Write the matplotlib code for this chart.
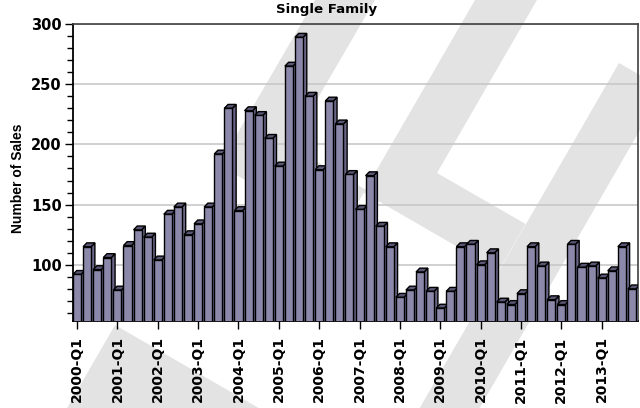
import matplotlib.pyplot as plt
from matplotlib.patches import Polygon
from matplotlib.ticker import MultipleLocator

# quarterly single family sales, 2000-Q1 .. 2013-Q4
quarters = [f"{y}-Q{q}" for y in range(2000, 2014) for q in range(1, 5)]
sales = [92, 115, 96, 106, 79, 116, 129, 123, 104, 142,
         148, 125, 134, 148, 192, 230, 145, 228, 224, 205,
         182, 265, 289, 240, 179, 236, 217, 175, 146, 174,
         132, 115, 73, 79, 94, 78, 64, 78, 115, 117,
         100, 110, 69, 67, 76, 115, 99, 71, 67, 117,
         98, 99, 89, 95, 115, 80]
tick_labels = ['2000-Q1', '2001-Q1', '2002-Q1', '2003-Q1', '2004-Q1',
               '2005-Q1', '2006-Q1', '2007-Q1', '2008-Q1', '2009-Q1',
               '2010-Q1', '2011-Q1', '2012-Q1', '2013-Q1']

FRONT = '#8c88aa'
SIDE = '#6a6688'
TOP = '#5a5675'


def main():
    fig = plt.figure(figsize=(6.4, 4.08), dpi=100)

    # watermark logo behind everything, pixel coords with y going down
    wm = fig.add_axes([0, 0, 1, 1], zorder=0)
    wm.set_xlim(0, 640)
    wm.set_ylim(408, 0)
    wm.axis('off')
    shapes = [
        [(315, 0), (375, 0), (290, 146), (365.5, 189.6), (339.6, 234.6), (219, 165)],
        [(475, 0), (537, 0), (437, 173), (525.6, 224), (498.7, 270.6), (363.6, 192.6)],
        [(619, 63), (663.7, 88.8), (467, 430), (407, 430)],
        [(115, 325), (340, 455), (40, 455)],
    ]
    for pts in shapes:
        wm.add_patch(Polygon(pts, closed=True, facecolor='#e3e3e3', edgecolor='none'))

    ax = fig.add_axes([73/640, 1-321/408, 565/640, 297/408], zorder=1)
    ax.patch.set_alpha(0)
    ax.set_xlim(-0.4, len(quarters) - 0.4)
    ax.set_ylim(53.3, 300)

    w = 0.8
    dx, dy = 0.37, 3.2  # fake 3d depth
    xs = list(range(len(quarters)))
    bars = ax.bar(xs, sales, width=w, color=FRONT, edgecolor='black', linewidth=1)
    for i, (p, v) in enumerate(zip(bars, sales)):
        z = 3 + i*0.01
        p.set_zorder(z + 0.005)
        r = i + w/2
        side = Polygon([(r, 0), (r+dx, dy), (r+dx, v+dy), (r, v)], closed=True,
                       facecolor=SIDE, edgecolor='black', linewidth=1, zorder=z)
        top = Polygon([(i-w/2, v), (r, v), (r+dx, v+dy), (i-w/2+dx, v+dy)], closed=True,
                      facecolor=TOP, edgecolor='black', linewidth=1, zorder=z)
        ax.add_patch(side)
        ax.add_patch(top)

    ax.set_axisbelow(True)
    ax.yaxis.set_major_locator(MultipleLocator(50))
    ax.yaxis.set_minor_locator(MultipleLocator(10))
    ax.grid(axis='y', which='major', color='#c8c8c8', linewidth=1.2)
    ax.set_xticks(xs[::4])
    ax.set_xticklabels(tick_labels, rotation=90, fontsize=10, fontweight='bold')
    for t in ax.get_yticklabels():
        t.set_fontweight('bold')
    ax.tick_params(axis='y', which='major', length=6, width=1, labelsize=10.5, pad=2)
    ax.tick_params(axis='y', which='minor', length=4.3, width=1)
    ax.tick_params(axis='x', which='major', length=6, width=1, pad=5)
    for s in ['left', 'bottom']:
        ax.spines[s].set_linewidth(1.3)
    for s in ['top', 'right']:
        ax.spines[s].set_color('#404040')
        ax.spines[s].set_linewidth(1.2)

    fig.text(0.028, 1-178/408, 'Number of Sales', rotation=90, ha='center', va='center',
             fontsize=10, fontweight='bold', family='Liberation Sans')
    fig.text(327/640, 1-9/408, 'Single Family', ha='center', va='center',
             fontsize=9.6, fontweight='bold')

    fig.savefig('out.png', dpi=100)


if __name__ == "__main__":
    main()
